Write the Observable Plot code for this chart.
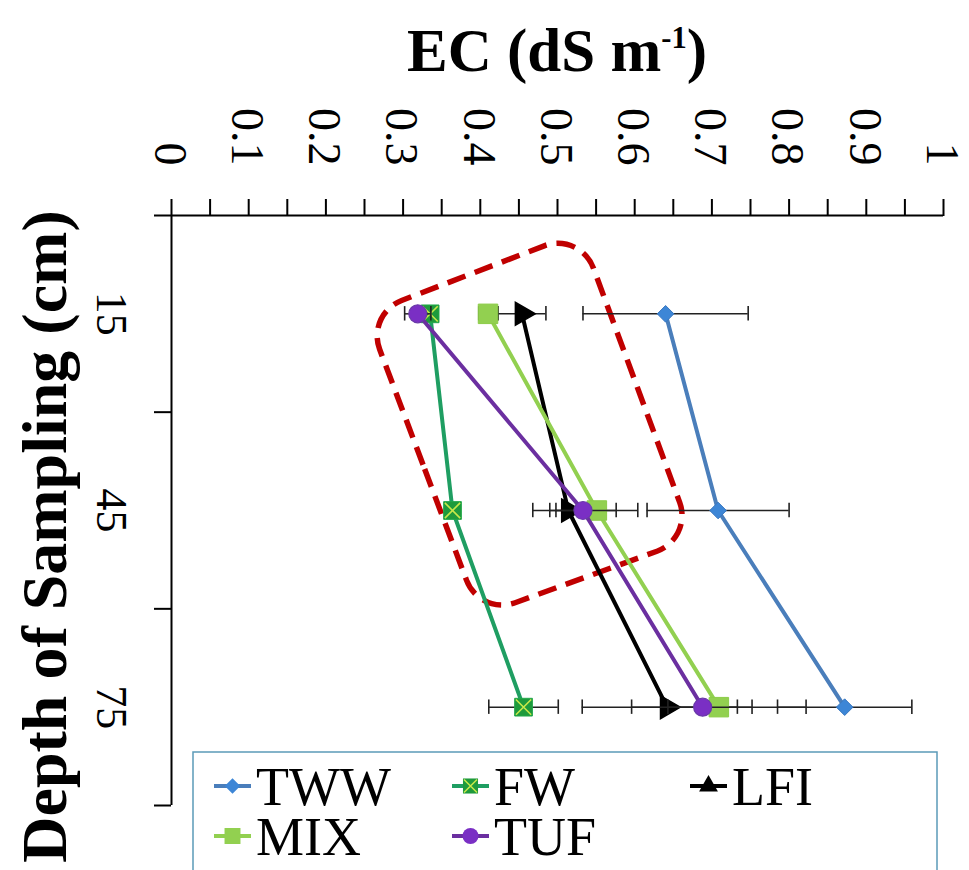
<!DOCTYPE html>
<html><head><meta charset="utf-8">
<script src="https://cdn.jsdelivr.net/npm/d3@7"></script>
<script src="https://cdn.jsdelivr.net/npm/@observablehq/plot@0.6"></script>
<style>
body{margin:0;background:#fff;}
#wrap{position:relative;width:969px;height:870px;overflow:hidden;background:#fff;}
#wrap svg{display:block;}
#title{position:absolute;top:20px;left:557px;transform:translateX(-50%);white-space:nowrap;
 font-family:"Liberation Serif","Times New Roman","DejaVu Serif",serif;font-weight:bold;font-size:61px;line-height:61px;color:#000;}
#title sup{font-size:0.5em;vertical-align:0.75em;line-height:0;}
#legend{position:absolute;left:0;top:0;pointer-events:none;}
</style></head><body><div id="wrap"><div id="title">EC (dS m<sup>-1</sup>)</div></div>
<script>
// ---- data ----
const depths = [15, 45, 75];
const seriesNames = ["TWW", "FW", "LFI", "MIX", "TUF"];
const TWW = [0.640, 0.708, 0.872];
const TWW_err = [0.107, 0.092, 0.087];
const FW = [0.335, 0.364, 0.456];
const FW_err = [0.010, 0.008, 0.045];
const LFI = [0.454, 0.514, 0.642];
const LFI_err = [0.031, 0.046, 0.110];
const MIX = [0.410, 0.551, 0.709];
const MIX_err = [0.012, 0.053, 0.113];
const TUF = [0.319, 0.533, 0.688];
const TUF_err = [0.017, 0.043, 0.045];
const xTickValues = [0, 0.1, 0.2, 0.3, 0.4, 0.5, 0.6, 0.7, 0.8, 0.9, 1];
const xTickLabels = ["0", "0.1", "0.2", "0.3", "0.4", "0.5", "0.6", "0.7", "0.8", "0.9", "1"];
const xMinorTicks = [0, 0.05, 0.1, 0.15, 0.2, 0.25, 0.3, 0.35, 0.4, 0.45, 0.5, 0.55, 0.6, 0.65, 0.7, 0.75, 0.8, 0.85, 0.9, 0.95, 1];
const depthTicks = [0, 30, 60, 90];
const depthLabels = ["15", "45", "75"];
// highlighted region (red dashed box) corners, in EC / depth units
const highlightEC = [0.253, 0.530, 0.676, 0.400];
const highlightDepth = [15.1, 2.6, 49.3, 61.1];

const values = {TWW, FW, LFI, MIX, TUF};
const errors = {TWW: TWW_err, FW: FW_err, LFI: LFI_err, MIX: MIX_err, TUF: TUF_err};
const lineColor = {TWW: "#4a7ebb", FW: "#1f9e62", LFI: "#000000", MIX: "#92d050", TUF: "#6b2fa0"};

const rows = [];
seriesNames.forEach(s => depths.forEach((d, i) => rows.push({series: s, depth: d, ec: values[s][i], err: errors[s][i]})));
const caps = rows.flatMap(r => [{series: r.series, depth: r.depth, x: r.ec - r.err}, {series: r.series, depth: r.depth, x: r.ec + r.err}]);
const highlight = highlightEC.map((x, i) => ({ec: x, depth: highlightDepth[i]}));

const font = '"Liberation Serif","Times New Roman","DejaVu Serif",serif';

function markerMarks(s, data) {
  const base = {x: "ec", y: "depth"};
  if (s === "TWW") return [Plot.dot(data, {...base, symbol: "diamond2", r: 7.5, fill: "#3d86d6", stroke: "#3a78c0", strokeWidth: 1})];
  if (s === "FW") return [
    Plot.dot(data, {...base, symbol: "square", r: 10, fill: "#1e9a3c", stroke: "#23a84a", strokeWidth: 1}),
    Plot.dot(data, {...base, symbol: "times", r: 7, stroke: "#c8e84a", strokeWidth: 1.6})
  ];
  if (s === "LFI") return [Plot.dot(data, {...base, symbol: "triangle", rotate: 90, r: 8.5, fill: "#000", stroke: "#000"})];
  if (s === "MIX") return [Plot.dot(data, {...base, symbol: "square", r: 11, fill: "#92d050", stroke: "#8ccc48", strokeWidth: 1})];
  return [Plot.dot(data, {...base, symbol: "circle", r: 9, fill: "#7a2fc4", stroke: "#6a3aa8", strokeWidth: 1.2})];
}

const seriesMarks = seriesNames.flatMap(s => {
  const data = rows.filter(r => r.series === s);
  const c = caps.filter(r => r.series === s);
  return [
    Plot.ruleY(data, {y: "depth", x1: d => d.ec - d.err, x2: d => d.ec + d.err, stroke: "#222", strokeWidth: 1.5}),
    Plot.ruleX(c, {x: "x", y1: d => d.depth - 1.1, y2: d => d.depth + 1.1, stroke: "#222", strokeWidth: 1.6}),
    Plot.line(data, {x: "ec", y: "depth", stroke: lineColor[s], strokeWidth: 4}),
    ...markerMarks(s, data)
  ];
});

function highlightMark(index, scales) {
  const pts = highlight.map(d => [scales.x(d.ec), scales.y(d.depth)]);
  const n = pts.length, r = 38;
  const p = d3.path();
  const a = pts[n - 1], b = pts[0];
  p.moveTo((a[0] + b[0]) / 2, (a[1] + b[1]) / 2);
  for (let i = 0; i < n; i++) {
    const cur = pts[i], nxt = pts[(i + 1) % n];
    p.arcTo(cur[0], cur[1], nxt[0], nxt[1], r);
  }
  p.closePath();
  const el = document.createElementNS("http://www.w3.org/2000/svg", "path");
  el.setAttribute("d", p.toString());
  el.setAttribute("fill", "none");
  el.setAttribute("stroke", "#c00000");
  el.setAttribute("stroke-width", "5.5");
  el.setAttribute("stroke-dasharray", "19,10");
  return el;
}

const chart = Plot.plot({
  width: 969, height: 870,
  marginLeft: 171, marginRight: 26, marginTop: 215, marginBottom: 65,
  x: {domain: [0, 1]},
  y: {domain: [0, 90], reverse: true},
  style: {fontFamily: font, background: "white", color: "#000", overflow: "visible"},
  marks: [
    Plot.axisX({anchor: "top", ticks: xMinorTicks, tickSize: 17, tickFormat: () => "", label: null, strokeWidth: 2}),
    Plot.axisY({anchor: "left", ticks: depthTicks, tickSize: 17, tickFormat: () => "", label: null, strokeWidth: 2}),
    Plot.ruleY([0], {stroke: "#000", strokeWidth: 2}),
    Plot.ruleX([0], {stroke: "#000", strokeWidth: 2}),
    Plot.text(xTickValues, {x: d => d, text: (d, i) => xTickLabels[i], frameAnchor: "top", dy: -50, dx: 16, rotate: 90, textAnchor: "end", fontSize: 46, fontFamily: font}),
    Plot.text(depths, {y: d => d, text: (d, i) => depthLabels[i], frameAnchor: "left", dx: -60, rotate: 90, textAnchor: "middle", fontSize: 44, fontFamily: font}),
    Plot.text(["Depth of Sampling (cm)"], {frameAnchor: "left", dx: -126, dy: 26, rotate: -90, textAnchor: "middle", fontSize: 64, fontWeight: "bold", fontFamily: font}),
    highlightMark,
    ...seriesMarks
  ]
});
document.getElementById("wrap").appendChild(chart);

// ---- legend overlay ----
const leg = d3.select("#wrap").append("svg").attr("id", "legend").attr("width", 969).attr("height", 870);
leg.append("rect").attr("x", 193).attr("y", 752).attr("width", 744).attr("height", 140)
  .attr("fill", "#fff").attr("stroke", "#5b9ab8").attr("stroke-width", 1.5);
const legendItems = [
  {s: "TWW", col: 0, row: 0}, {s: "FW", col: 1, row: 0}, {s: "LFI", col: 2, row: 0},
  {s: "MIX", col: 0, row: 1}, {s: "TUF", col: 1, row: 1}
];
const colX = [214, 452, 690], rowY = [786, 836];
legendItems.forEach(it => {
  const x0 = colX[it.col], y = rowY[it.row];
  const g = leg.append("g");
  g.append("line").attr("x1", x0).attr("x2", x0 + 37).attr("y1", y).attr("y2", y)
    .attr("stroke", lineColor[it.s]).attr("stroke-width", 4);
  const cx = x0 + 18.5;
  if (it.s === "TWW") g.append("path").attr("d", d3.symbol(d3.symbolDiamond2, Math.PI * 7 * 7)()).attr("transform", `translate(${cx},${y})`).attr("fill", "#3d86d6");
  if (it.s === "FW") {
    g.append("path").attr("d", d3.symbol(d3.symbolSquare, Math.PI * 8.5 * 8.5)()).attr("transform", `translate(${cx},${y})`).attr("fill", "#1e9a3c");
    g.append("path").attr("d", d3.symbol(d3.symbolTimes, Math.PI * 6 * 6)()).attr("transform", `translate(${cx},${y})`).attr("fill", "none").attr("stroke", "#c8e84a").attr("stroke-width", 1.5);
  }
  if (it.s === "LFI") g.append("path").attr("d", d3.symbol(d3.symbolTriangle, Math.PI * 7 * 7)()).attr("transform", `translate(${cx},${y})`).attr("fill", "#000");
  if (it.s === "MIX") g.append("path").attr("d", d3.symbol(d3.symbolSquare, Math.PI * 9 * 9)()).attr("transform", `translate(${cx},${y})`).attr("fill", "#92d050");
  if (it.s === "TUF") g.append("path").attr("d", d3.symbol(d3.symbolCircle, Math.PI * 8 * 8)()).attr("transform", `translate(${cx},${y})`).attr("fill", "#7a2fc4");
  g.append("text").attr("x", x0 + 42).attr("y", y + 19).attr("font-family", font).attr("font-size", 54).attr("fill", "#000").text(it.s);
});
</script></body></html>
